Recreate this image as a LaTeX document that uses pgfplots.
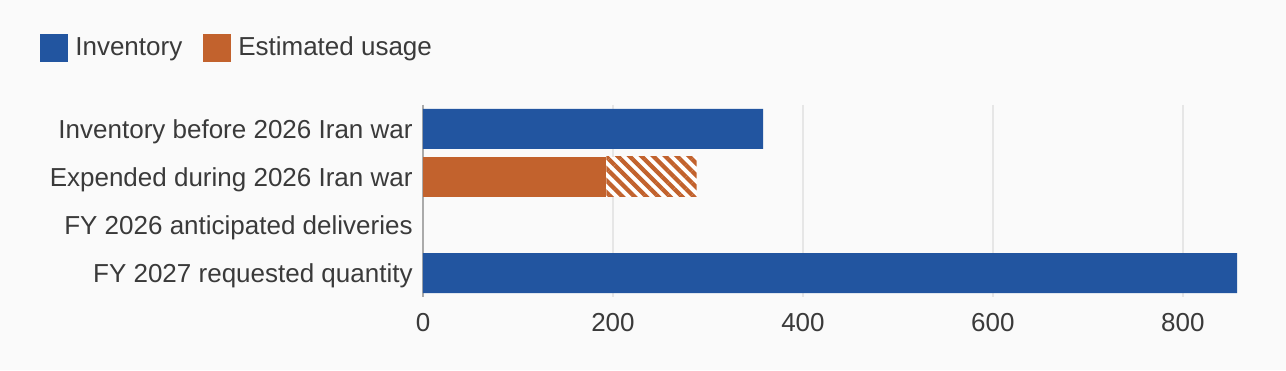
\documentclass[border=0pt]{standalone}
\usepackage{pgfplots}
\pgfplotsset{compat=1.18}
\usepackage{fontspec}
\setmainfont{Liberation Sans}
\usetikzlibrary{patterns.meta}
\definecolor{bg}{HTML}{FAFAFA}
\definecolor{invblue}{HTML}{2255A0}
\definecolor{usage}{HTML}{C2622D}
\definecolor{txt}{HTML}{3A3A3A}
\definecolor{gridc}{HTML}{E6E6E6}
\definecolor{axln}{HTML}{AAAAAA}
\newcommand{\fs}{\fontsize{13}{15}\selectfont}
\begin{document}
\begin{tikzpicture}
\fill[bg] (0,0) rectangle (643pt,185pt);
\useasboundingbox (0,0) rectangle (643pt,185pt);
\begin{axis}[
  at={(211.5pt,36.5pt)}, anchor=south west,
  scale only axis, width=407.5pt, height=96pt,
  xbar stacked, bar width=20pt,
  xmin=0, xmax=858, ymin=-0.5, ymax=3.5, y dir=reverse,
  ytick={0,1,2,3},
  yticklabels={Inventory before 2026 Iran war, Expended during 2026 Iran war, FY 2026 anticipated deliveries, FY 2027 requested quantity},
  xtick={0,200,400,600,800},
  axis x line*=bottom, axis y line*=left,
  x axis line style={draw=none},
  y axis line style={draw=axln, line width=1pt},
  major tick length=0pt,
  xmajorgrids, grid style={draw=gridc, line width=1pt},
  /pgf/number format/assume math mode=true,
  ticklabel style={font=\fs, text=txt, inner sep=0pt},
  ytick style={draw=none}, xtick style={draw=none},
  yticklabel style={xshift=-5pt, yshift=-1.5pt},
  xticklabel style={yshift=-8pt},
  legend style={at={(axis description cs:-0.47,1.297)}, anchor=west, draw=none, fill=none,
    font=\fs, text=txt, inner sep=0pt, nodes={inner sep=0pt},
    /tikz/every even column/.append style={column sep=10.5pt},
    /tikz/every odd column/.append style={column sep=3.5pt}},
  legend columns=2,
  legend image code/.code={\fill[#1] (0pt,-7pt) rectangle (14pt,7pt);},
]
\addplot[fill=invblue, draw=none] coordinates {(358,0) (0,1) (0,2) (857,3)};
\addlegendentry{Inventory}
\addplot[fill=usage, draw=none] coordinates {(0,0) (193,1) (0,2) (0,3)};
\addlegendentry{Estimated usage}
\addplot[forget plot, draw=none, fill=white, postaction={pattern={Lines[angle=-45,distance=4.2pt,line width=2.1pt]}, pattern color=usage}] coordinates {(0,0) (95,1) (0,2) (0,3)};
\end{axis}
\end{tikzpicture}
\end{document}
